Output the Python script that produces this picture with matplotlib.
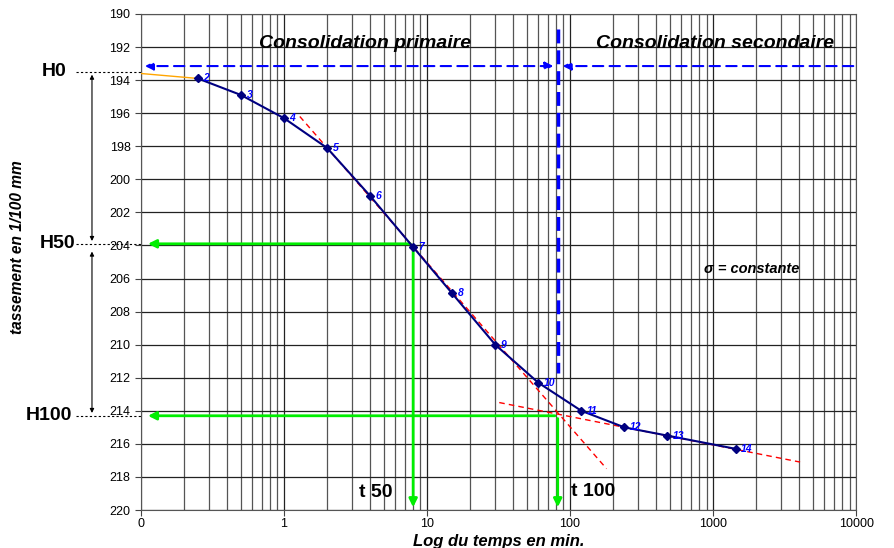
import matplotlib.pyplot as plt
from matplotlib.ticker import FixedLocator, NullFormatter

plt.rcParams['font.family'] = ['Liberation Sans', 'DejaVu Sans']

# mesures (temps en min, tassement en 1/100 mm)
temps = [0.25, 0.5, 1, 2, 4, 8, 15, 30, 60, 120, 240, 480, 1440]
tassement = [193.9, 194.9, 196.3, 198.1, 201.0, 204.1, 206.9, 210.0, 212.3, 214.0, 215.0, 215.5, 216.3]
num_points = [2, 3, 4, 5, 6, 7, 8, 9, 10, 11, 12, 13, 14]

# debut (point 1 hors echelle log)
debut_t = [0.1, 0.25]
debut_h = [193.6, 193.9]

# tangentes
tang_prim_t = [1.29, 180]
tang_prim_h = [196.2, 217.5]
tang_sec_t = [32, 4060]
tang_sec_h = [213.5, 217.1]

H0 = 193.5
H50 = 203.9
H100 = 214.3
t50 = 8
t100 = 82
y_bleu = 193.15

x_ticks = [0.1, 1, 10, 100, 1000, 10000]
x_labels = ['0', '1', '10', '100', '1000', '10000']
y_ticks = list(range(190, 221, 2))

fig = plt.figure(figsize=(8.95, 5.48), dpi=100)
ax = fig.add_axes([0.1575, 0.0693, 0.799, 0.9052])
ax.set_xscale('log')
ax.set_xlim(0.1, 10000)
ax.set_ylim(220, 190)

# grille
minors = [m * 10.0 ** e for e in range(-1, 4) for m in range(2, 10)]
ax.xaxis.set_minor_locator(FixedLocator(minors))
ax.xaxis.set_minor_formatter(NullFormatter())
ax.set_xticks(x_ticks)
ax.set_xticklabels(x_labels)
ax.set_yticks(y_ticks)
ax.tick_params(axis='x', which='minor', length=0)
ax.tick_params(axis='both', which='major', labelsize=9, length=4, direction='out', color='#444444')
ax.tick_params(axis='x', which='major', pad=2)
ax.grid(True, which='major', color='#222222', lw=0.9)
ax.grid(True, which='minor', axis='x', color='#555555', lw=0.9)
for s in ax.spines.values():
    s.set_color('#555555')
    s.set_linewidth(0.8)

# courbe
ax.plot(debut_t, debut_h, color='orange', lw=1, zorder=3)
ax.plot(temps, tassement, color='#000080', lw=1.5, marker='D', ms=4, zorder=4)
for t, h, n in zip(temps, tassement, num_points):
    ax.annotate(str(n), (t, h), xytext=(4, 0), textcoords='offset points',
                color='#0000ff', fontsize=7.5, style='italic', weight='bold', va='center', zorder=5)

ax.plot(tang_prim_t, tang_prim_h, color='red', lw=1, ls=(0, (4, 3)), zorder=3)
ax.plot(tang_sec_t, tang_sec_h, color='red', lw=1, ls=(0, (4, 3)), zorder=3)

# lignes vertes
green = '#00ee00'
arrow_g = dict(arrowstyle='-|>', color=green, lw=2, mutation_scale=12)
ax.annotate('', xy=(0.107, H50), xytext=(t50, H50), arrowprops=arrow_g, zorder=3)
ax.annotate('', xy=(t50, 220), xytext=(t50, H50), arrowprops=arrow_g, zorder=3)
ax.annotate('', xy=(0.107, H100), xytext=(t100, H100), arrowprops=arrow_g, zorder=3)
ax.annotate('', xy=(t100, 220), xytext=(t100, H100), arrowprops=arrow_g, zorder=3)

# lignes bleues
blue = '#0000ff'
ax.plot([82, 82], [190.9, 211.7], color=blue, lw=2.5, ls=(0, (4, 2)), zorder=3)
ax.annotate('', xy=(0.102, y_bleu), xytext=(80, y_bleu),
            arrowprops=dict(arrowstyle='<|-|>', color=blue, lw=1.5, ls=(0, (5, 3)), mutation_scale=12), zorder=3)
ax.annotate('', xy=(85, y_bleu), xytext=(10000, y_bleu),
            arrowprops=dict(arrowstyle='-|>', color=blue, lw=1.5, ls=(0, (5, 3)), mutation_scale=12), zorder=3)

# textes
ax.text(3.7, 191.8, 'Consolidation primaire', fontsize=14, weight='bold', style='italic',
        ha='center', va='center')
ax.text(1030, 191.8, 'Consolidation secondaire', fontsize=14, weight='bold', style='italic',
        ha='center', va='center')
ax.text(1875, 205.4, 'σ = constante', fontsize=10.5, weight='bold', style='italic',
        ha='center', va='center')
ax.text(4.4, 218.95, 't 50', fontsize=14, weight='bold', ha='center', va='center')
ax.text(145, 218.9, 't 100', fontsize=14, weight='bold', ha='center', va='center')

# reperes H a gauche
tr = ax.get_yaxis_transform()
for lab, h, xl in [('H0', H0, -0.1035), ('H50', H50, -0.092), ('H100', H100, -0.0965)]:
    ax.text(xl, h, lab, transform=tr, fontsize=14, weight='bold', ha='right', va='center', clip_on=False)
    ax.plot([-0.091, 0], [h, h], transform=tr, color='black', lw=0.8, ls=(0, (2, 2)), clip_on=False)
ax.annotate('', xy=(-0.0685, H0), xytext=(-0.0685, H50), xycoords=tr, textcoords=tr,
            arrowprops=dict(arrowstyle='<|-|>', color='black', lw=0.8, mutation_scale=6))
ax.annotate('', xy=(-0.0685, H50 + 0.3), xytext=(-0.0685, H100), xycoords=tr, textcoords=tr,
            arrowprops=dict(arrowstyle='<|-|>', color='black', lw=0.8, mutation_scale=6))

ax.set_ylabel('tassement en 1/100 mm', fontsize=11.2, weight='bold', style='italic')
ax.yaxis.set_label_coords(-0.162, 0.53)
ax.set_xlabel('Log du temps en min.', fontsize=12, weight='bold', style='italic', va='center')
ax.xaxis.set_label_coords(0.5, -0.063)

fig.savefig('out.png', dpi=100)
